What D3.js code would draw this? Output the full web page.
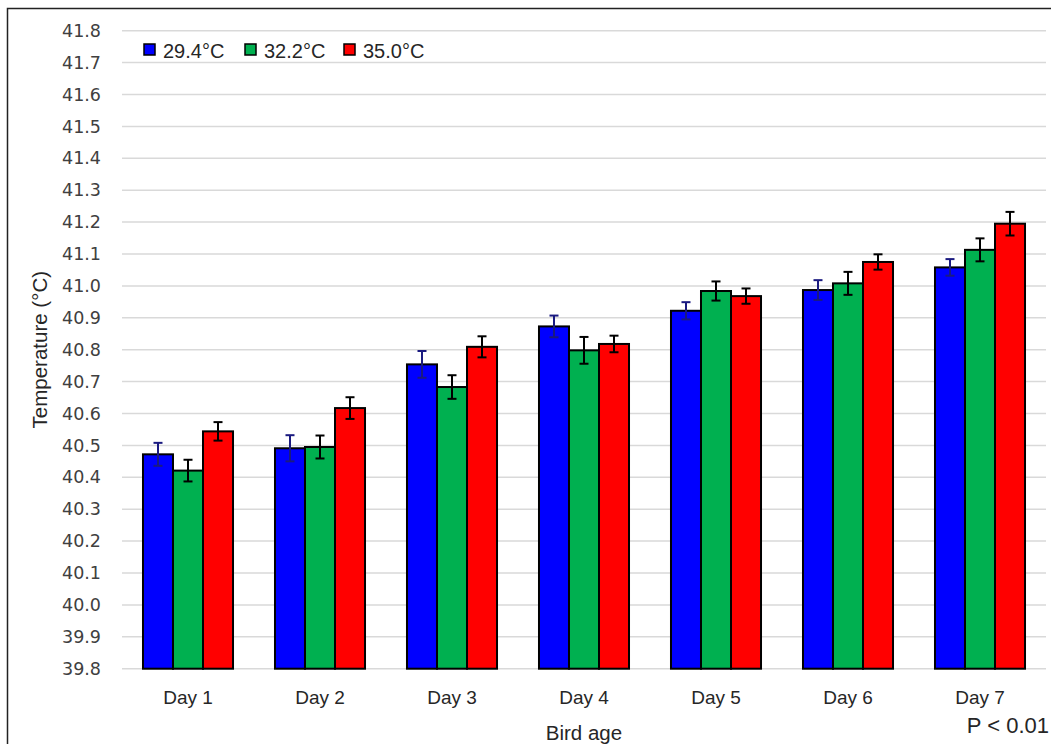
<!DOCTYPE html>
<html>
<head>
<meta charset="utf-8">
<style>
  body { margin: 0; background: #fff; }
  svg text { font-family: "Liberation Sans", Roboto, sans-serif; }
  svg .ytick text { font-family: "DejaVu Sans", sans-serif; }
</style>
</head>
<body>
<div id="chart"></div>
<script src="https://d3js.org/d3.v7.min.js"></script>
<script>
  // data
  var days = ["Day 1", "Day 2", "Day 3", "Day 4", "Day 5", "Day 6", "Day 7"];
  var seriesNames = ["29.4°C", "32.2°C", "35.0°C"];
  var seriesColors = ["#0000ff", "#00b050", "#ff0000"];
  var errColors = ["#1a1a80", "#000", "#000"];

  var t294 = [40.472, 40.491, 40.754, 40.873, 40.922, 40.987, 41.058];
  var t322 = [40.421, 40.495, 40.683, 40.798, 40.984, 41.008, 41.113];
  var t350 = [40.544, 40.617, 40.809, 40.818, 40.968, 41.075, 41.195];

  var e294 = [0.036, 0.041, 0.042, 0.034, 0.027, 0.031, 0.026];
  var e322 = [0.034, 0.036, 0.037, 0.042, 0.030, 0.036, 0.036];
  var e350 = [0.029, 0.034, 0.033, 0.026, 0.024, 0.024, 0.037];

  var yTicks = d3.range(0, 21).map(function(i){ return +(39.8 + i * 0.1).toFixed(1); });

  var values = [t294, t322, t350];
  var errors = [e294, e322, e350];

  var width = 1051, height = 744;
  var plotLeft = 122, plotRight = 1046, plotTop = 30.7, plotBottom = 668.7;

  var svg = d3.select("#chart").append("svg")
      .attr("width", width)
      .attr("height", height);

  // outer frame (only left and top visible in the crop)
  svg.append("path")
      .attr("d", "M7.5," + height + "V8.5H" + width)
      .attr("fill", "none")
      .attr("stroke", "#222")
      .attr("stroke-width", 1.5);

  var y = d3.scaleLinear().domain([39.8, 41.8]).range([plotBottom, plotTop]);
  var x = d3.scaleBand().domain(days).range([plotLeft, plotRight])
      .paddingInner(0.318).paddingOuter(0.159);
  var xs = d3.scaleBand().domain(d3.range(3)).range([0, x.bandwidth()]);

  // gridlines
  svg.append("g").selectAll("line")
    .data(yTicks)
    .enter().append("line")
      .attr("x1", plotLeft).attr("x2", plotRight)
      .attr("y1", function(d){ return y(d); })
      .attr("y2", function(d){ return y(d); })
      .attr("stroke", "#d9d9d9")
      .attr("stroke-width", 1.5);

  // y axis labels
  var yAxis = d3.axisLeft(y).tickValues(yTicks).tickFormat(d3.format(".1f")).tickSize(0).tickPadding(0);
  var ya = svg.append("g").attr("class", "ytick").attr("transform", "translate(101,0)").call(yAxis);
  ya.select(".domain").remove();
  ya.selectAll("text")
      .attr("font-size", 17.5)
      .attr("fill", "#404040");

  // x axis labels
  var xAxis = d3.axisBottom(x).tickSize(0).tickPadding(0);
  var xa = svg.append("g").attr("transform", "translate(0,690)").call(xAxis);
  xa.select(".domain").remove();
  xa.selectAll("text")
      .attr("font-size", 19)
      .attr("fill", "#262626");

  // bars
  var groups = svg.append("g").selectAll("g")
    .data(days)
    .enter().append("g")
      .attr("transform", function(d){ return "translate(" + x(d) + ",0)"; });

  groups.selectAll("rect")
    .data(function(d, i){ return values.map(function(s, k){ return { k: k, v: s[i], e: errors[k][i] }; }); })
    .enter().append("rect")
      .attr("x", function(d){ return xs(d.k); })
      .attr("y", function(d){ return y(d.v); })
      .attr("width", xs.bandwidth())
      .attr("height", function(d){ return y(39.8) - y(d.v); })
      .attr("fill", function(d){ return seriesColors[d.k]; })
      .attr("stroke", "#000")
      .attr("stroke-width", 2);

  // error bars
  var eb = groups.selectAll("g.err")
    .data(function(d, i){ return values.map(function(s, k){ return { k: k, v: s[i], e: errors[k][i] }; }); })
    .enter().append("g")
      .attr("class", "err")
      .attr("stroke", function(d){ return errColors[d.k]; })
      .attr("stroke-width", 2);
  eb.append("line")
      .attr("x1", function(d){ return xs(d.k) + xs.bandwidth() / 2; })
      .attr("x2", function(d){ return xs(d.k) + xs.bandwidth() / 2; })
      .attr("y1", function(d){ return y(d.v + d.e); })
      .attr("y2", function(d){ return y(d.v - d.e); });
  eb.selectAll("line.cap")
    .data(function(d){ return [d.v + d.e, d.v - d.e].map(function(t){ return { k: d.k, t: t }; }); })
    .enter().append("line")
      .attr("class", "cap")
      .attr("x1", function(d){ return xs(d.k) + xs.bandwidth() / 2 - 4.5; })
      .attr("x2", function(d){ return xs(d.k) + xs.bandwidth() / 2 + 4.5; })
      .attr("y1", function(d){ return y(d.t); })
      .attr("y2", function(d){ return y(d.t); });

  // legend
  var legX = [144, 245, 344];
  var leg = svg.append("g").selectAll("g")
    .data(seriesNames)
    .enter().append("g")
      .attr("transform", function(d, i){ return "translate(" + legX[i] + ",44)"; });
  leg.append("rect")
      .attr("width", 11).attr("height", 11)
      .attr("fill", function(d, i){ return seriesColors[i]; })
      .attr("stroke", "#000").attr("stroke-width", 1.5);
  leg.append("text")
      .attr("x", 19).attr("y", 14)
      .attr("font-size", 20)
      .attr("fill", "#262626")
      .text(function(d){ return d; });

  // axis titles
  svg.append("text")
      .attr("transform", "translate(47," + ((plotTop + plotBottom) / 2) + ") rotate(-90)")
      .attr("text-anchor", "middle")
      .attr("font-size", 20.5)
      .attr("fill", "#262626")
      .text("Temperature (°C)");

  svg.append("text")
      .attr("x", (plotLeft + plotRight) / 2).attr("y", 740)
      .attr("text-anchor", "middle")
      .attr("font-size", 20.5)
      .attr("fill", "#262626")
      .text("Bird age");

  svg.append("text")
      .attr("x", 1049).attr("y", 733)
      .attr("text-anchor", "end")
      .attr("font-size", 22)
      .attr("fill", "#262626")
      .text("P < 0.01");
</script>
</body>
</html>
